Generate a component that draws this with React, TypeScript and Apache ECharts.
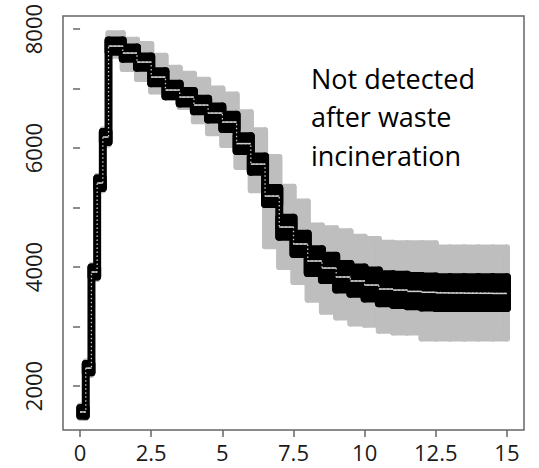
import React, { useEffect, useRef } from "react";
import * as echarts from "echarts";

// step start times (years) and values held until the next time
const stepTimes = [0, 0.2, 0.4, 0.6, 0.8, 1.0, 1.5, 2.0, 2.5, 3.0, 3.5, 4.0, 4.5, 5.0, 5.5, 6.0, 6.5, 7.0, 7.5, 8.0, 8.5, 9.0, 9.5, 10.0, 10.5, 11.0, 11.5, 12.0, 12.5, 13.0, 13.5, 14.0, 14.5, 15.0];
const median = [1563, 2300, 3916, 5412, 6185, 7714, 7597, 7445, 7193, 6975, 6857, 6723, 6588, 6437, 6075, 5730, 5193, 4672, 4387, 4101, 3983, 3832, 3765, 3697, 3630, 3613, 3590, 3575, 3565, 3563, 3560, 3558, 3555, 3555];
const blackUpper = [1630, 2370, 3990, 5490, 6270, 7810, 7690, 7540, 7290, 7080, 6960, 6830, 6700, 6560, 6200, 5860, 5330, 4830, 4560, 4300, 4190, 4050, 3990, 3940, 3880, 3870, 3850, 3840, 3830, 3830, 3830, 3830, 3830, 3830];
const blackLower = [1500, 2230, 3840, 5330, 6100, 7620, 7500, 7350, 7090, 6870, 6750, 6620, 6480, 6320, 5950, 5600, 5060, 4510, 4220, 3900, 3780, 3620, 3550, 3470, 3390, 3360, 3340, 3320, 3310, 3310, 3310, 3310, 3310, 3310];
const grayUpper = [1670, 2410, 4030, 5530, 6310, 7930, 7820, 7750, 7550, 7350, 7250, 7150, 7000, 6900, 6600, 6300, 5850, 5350, 5100, 4700, 4650, 4600, 4510, 4470, 4410, 4400, 4400, 4400, 4330, 4330, 4330, 4330, 4330, 4330];
const grayLower = [1460, 2190, 3800, 5290, 6060, 7550, 7330, 7160, 6950, 6850, 6690, 6450, 6250, 6050, 5680, 5290, 4350, 4000, 3750, 3450, 3250, 3150, 3050, 3030, 2930, 2900, 2900, 2800, 2800, 2800, 2800, 2800, 2800, 2800];

const xTicks = [0, 2.5, 5, 7.5, 10, 12.5, 15];
const yTicks = [2000, 3000, 4000, 5000, 6000, 7000, 8000];
const yTickLabels = [2000, 4000, 6000, 8000];
const annotation = ["Not detected", "after waste", "incineration"];

const pairs = (vals: number[]) => stepTimes.map((t, i) => [t, vals[i]]);
// one row per step: start, end, lower, upper, next lower, next upper
const bandRows = (lo: number[], hi: number[]) =>
  stepTimes.slice(0, -1).map((t, i) => [t, stepTimes[i + 1], lo[i], hi[i], lo[i + 1], hi[i + 1]]);

const bandSeries = (lo: number[], hi: number[], color: string, width: number, z: number) => ({
  type: "custom",
  z,
  clip: true,
  silent: true,
  data: bandRows(lo, hi),
  encode: { x: [0, 1], y: [2, 3, 4, 5] },
  renderItem: (_params: any, api: any) => {
    const t0 = api.value(0);
    const t1 = api.value(1);
    const lo0 = api.value(2);
    const hi0 = api.value(3);
    const lo1 = api.value(4);
    const hi1 = api.value(5);
    const a = api.coord([t0, hi0]);
    const b = api.coord([t1, lo0]);
    const c = api.coord([t1, Math.max(hi0, hi1)]);
    const d = api.coord([t1, Math.min(lo0, lo1)]);
    const style = { fill: color, stroke: color, lineWidth: width, lineJoin: "round", lineCap: "round" };
    return {
      type: "group",
      children: [
        {
          type: "rect",
          shape: { x: a[0], y: a[1], width: b[0] - a[0], height: b[1] - a[1] },
          style,
        },
        {
          type: "line",
          shape: { x1: c[0], y1: c[1], x2: d[0], y2: d[1] },
          style: { stroke: color, lineWidth: width, lineCap: "round" },
        },
      ],
    };
  },
});

// solid horizontal pieces of the median step line
const medianFlats = {
  type: "custom",
  z: 4,
  clip: true,
  silent: true,
  data: stepTimes.slice(0, -1).map((t, i) => [t, stepTimes[i + 1], median[i]]),
  encode: { x: [0, 1], y: 2 },
  renderItem: (_params: any, api: any) => {
    const p = api.coord([api.value(0), api.value(2)]);
    const q = api.coord([api.value(1), api.value(2)]);
    return {
      type: "line",
      shape: { x1: p[0], y1: p[1], x2: q[0], y2: q[1] },
      style: { stroke: "#d0d0d0", lineWidth: 1.5 },
    };
  },
};

export default function App() {
  const ref = useRef<HTMLDivElement>(null);
  useEffect(() => {
    if (!ref.current) return;
    const chart = echarts.init(ref.current, undefined, { renderer: "svg" });
    const axisColor = "#666";
    const labelFont = { fontFamily: "Open Sans", fontSize: 22, color: "#1a1a1a" };
    chart.setOption({
      animation: false,
      grid: {
        left: 63,
        top: 16,
        width: 461,
        height: 414,
        show: true,
        borderColor: axisColor,
        borderWidth: 1.5,
        backgroundColor: "#fff",
      },
      xAxis: {
        type: "value",
        min: -0.6,
        max: 15.6,
        splitLine: { show: false },
        axisLine: { show: false },
        axisTick: {
          show: true,
          customValues: xTicks,
          length: 7,
          lineStyle: { color: axisColor, width: 1.5 },
        },
        axisLabel: {
          customValues: xTicks,
          margin: 11,
          formatter: (v: number) => String(v),
          ...labelFont,
        },
      },
      yAxis: {
        type: "value",
        min: 1260,
        max: 8220,
        splitLine: { show: false },
        axisLine: { show: false },
        axisTick: {
          show: true,
          customValues: yTicks,
          length: 7,
          lineStyle: { color: axisColor, width: 1.5 },
        },
        axisLabel: {
          customValues: yTickLabels,
          rotate: 90,
          margin: 19,
          formatter: (v: number) => String(v),
          ...labelFont,
        },
      },
      graphic: [
        {
          type: "text",
          x: 311,
          y: 59,
          z: 100,
          style: {
            text: annotation.join("\n"),
            fontFamily: "Open Sans",
            fontSize: 27,
            lineHeight: 38.5,
            fill: "#000",
          },
        },
      ],
      series: [
        bandSeries(grayLower, grayUpper, "#bebebe", 6, 1),
        bandSeries(blackLower, blackUpper, "#000", 8, 2),
        {
          type: "line",
          step: "end",
          data: pairs(median),
          showSymbol: false,
          silent: true,
          lineStyle: { color: "#c8c8c8", width: 1.3, type: [1.5, 2.5] },
          z: 3,
        },
        medianFlats,
      ],
    });
    return () => chart.dispose();
  }, []);
  return (
    <div
      ref={ref}
      style={{ position: "fixed", left: 0, top: 0, width: 539, height: 468, background: "#fff" }}
    />
  );
}
